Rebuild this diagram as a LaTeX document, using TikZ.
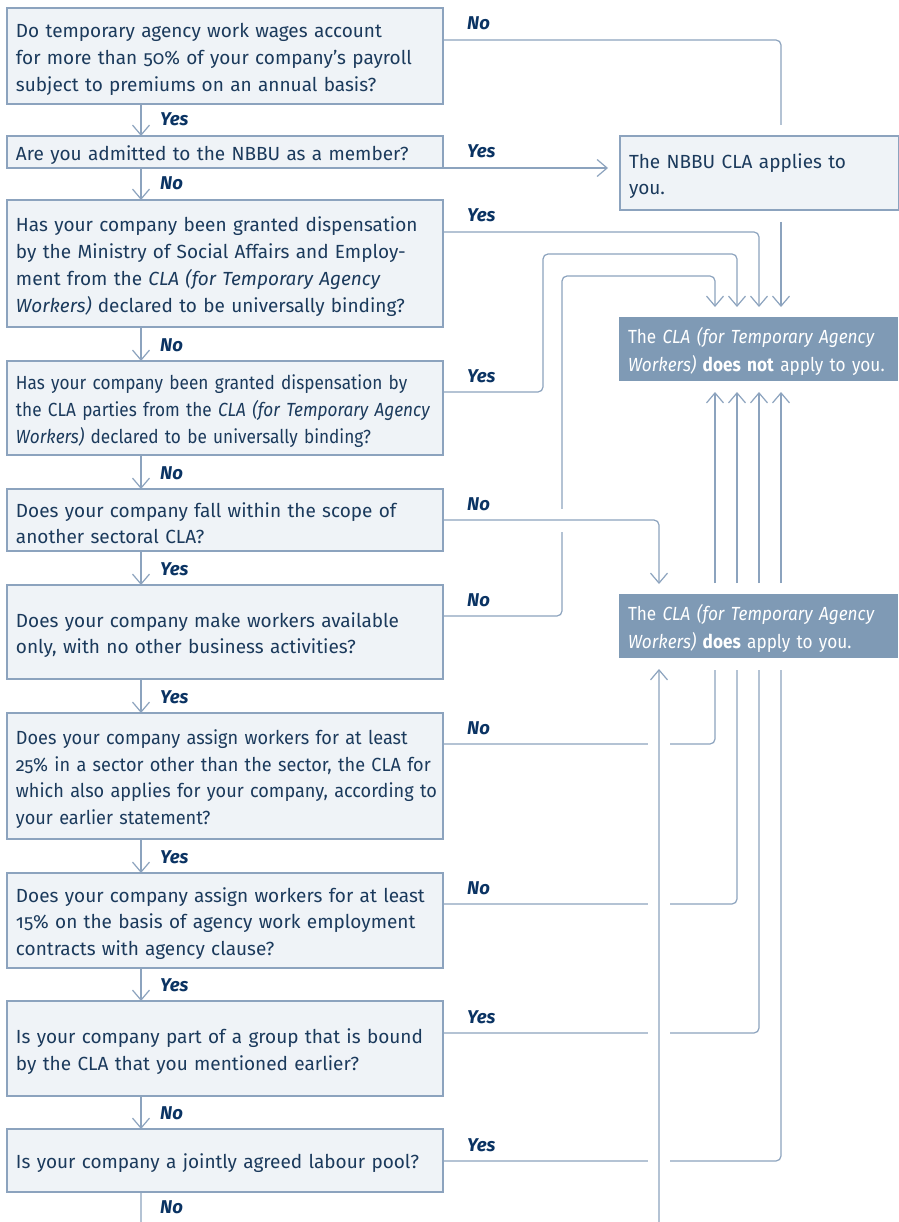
\documentclass[tikz,border=0pt]{standalone}
\usepackage{fontspec}
\setmainfont{Fira Sans}[Numbers=OldStyle]
\newfontfamily\condA{Fira Sans}[Numbers=OldStyle, FakeStretch=0.905]
\newfontfamily\condB{Fira Sans}[Numbers=OldStyle, FakeStretch=0.953]
\newfontfamily\condC{Fira Sans}[Numbers=OldStyle, FakeStretch=0.905]
\usetikzlibrary{arrows.meta,calc}
\definecolor{ln}{HTML}{8CA3BE}
\definecolor{bxfill}{HTML}{EFF3F7}
\definecolor{dkfill}{HTML}{7F9AB5}
\definecolor{txt}{HTML}{1B3A5C}
\definecolor{lbl}{HTML}{0A3363}
\newcommand\topstrut{\rule{0pt}{21pt}}
\newcommand\oneline[1]{\mbox{#1}}
\begin{document}
\begin{tikzpicture}[x=1pt,y=-1pt,
  qbox/.style={draw=ln, fill=bxfill, line width=1.2pt, rectangle, anchor=north west,
    outer sep=0pt, minimum width=436pt, text width=418pt, inner xsep=9pt, inner ysep=0pt,
    align=left, text=txt, font=\fontsize{19}{26.7}\selectfont},
  rbox/.style={qbox, minimum width=278.5pt, text width=260.5pt},
  dbox/.style={rectangle, fill=dkfill, anchor=north west, outer sep=0pt,
    minimum width=279pt, text width=261pt, inner xsep=9pt, inner ysep=0pt,
    align=left, text=white, font=\condC\fontsize{19}{28}\selectfont},
  lab/.style={anchor=base west, inner sep=0pt, text=lbl,
    font=\fontsize{18.5}{20}\selectfont\bfseries\itshape},
  cn/.style={draw=ln, line width=1.2pt, rounded corners=5pt},
  ar/.style={cn, -{Straight Barb[length=10pt,width=17pt]}},
  halo/.style={draw=white, line width=23pt},
]
\useasboundingbox (0,0) rectangle (898,1222);
\fill[white] (0,0) rectangle (898,1222);

% question boxes
\node[qbox, minimum height=96pt] (q1) at (7,8) {\topstrut\oneline{Do temporary agency work wages account}\\\oneline{for more than 50\% of your company’s payroll}\\\oneline{subject to premiums on an annual basis?}};
\node[qbox, minimum height=32pt] (q2) at (7,136) {\topstrut\oneline{Are you admitted to the NBBU as a member?}};
\node[qbox, minimum height=127pt] (q3) at (7,200) {\topstrut\oneline{Has your company been granted dispensation}\\\oneline{by the Ministry of Social Affairs and Employ-}\\\oneline{ment from the \textit{CLA (for Temporary Agency}}\\\oneline{\textit{Workers)} declared to be universally binding?}};
\node[qbox, minimum height=94pt, font=\condA\fontsize{19}{26.7}\selectfont] (q4) at (7,361) {\topstrut\oneline{Has your company been granted dispensation by}\\\oneline{the CLA parties from the \textit{CLA (for Temporary Agency}}\\\oneline{\textit{Workers)} declared to be universally binding?}};
\node[qbox, minimum height=62pt] (q5) at (7,489) {\topstrut\oneline{Does your company fall within the scope of}\\\oneline{another sectoral CLA?}};
\node[qbox, minimum height=94pt] (q6) at (7,585) {\topstrut\oneline{Does your company make workers available}\\\oneline{only, with no other business activities?}};
\node[qbox, minimum height=126pt, font=\condB\fontsize{19}{26.7}\selectfont] (q7) at (7,713) {\topstrut\oneline{Does your company assign workers for at least}\\\oneline{25\% in a sector other than the sector, the CLA for}\\\oneline{which also applies for your company, according to}\\\oneline{your earlier statement?}};
\node[qbox, minimum height=95pt] (q8) at (7,873) {\topstrut\oneline{Does your company assign workers for at least}\\\oneline{15\% on the basis of agency work employment}\\\oneline{contracts with agency clause?}};
\node[qbox, minimum height=95pt] (q9) at (7,1001) {\topstrut\oneline{Is your company part of a group that is bound}\\\oneline{by the CLA that you mentioned earlier?}};
\node[qbox, minimum height=63pt] (q10) at (7,1129) {\topstrut\oneline{Is your company a jointly agreed labour pool?}};

% result boxes
\node[rbox, minimum height=74pt] (nbbu) at (620,136) {\topstrut\oneline{The NBBU CLA applies to}\\\oneline{you.}};
\node[dbox, minimum height=64pt] (dnot) at (619,317) {\topstrut\oneline{The \textit{CLA (for Temporary Agency}}\\\oneline{\textit{Workers)} \textbf{does not} apply to you.}};
\node[dbox, minimum height=64pt] (does) at (619,594) {\topstrut\oneline{The \textit{CLA (for Temporary Agency}}\\\oneline{\textit{Workers)} \textbf{does} apply to you.}};

% helper coordinates
\coordinate (xL) at (141,0);
\coordinate (xA) at (543,0);
\coordinate (xB) at (562,0);
\coordinate (xC) at (659,0);
\coordinate (c1) at (715,0);
\coordinate (c2) at (737,0);
\coordinate (c3) at (759,0);
\coordinate (c4) at (781,0);
\coordinate (t1) at (0,254);
\coordinate (t2) at (0,276);
\coordinate (bot) at (659,1228);
\coordinate (e1) at ([yshift=-32pt]q1.north east);
\coordinate (e2) at ([yshift=-32pt]q2.north east);
\coordinate (e3) at ([yshift=-32pt]q3.north east);
\coordinate (e4) at ([yshift=-31pt]q4.north east);
\coordinate (e5) at ([yshift=-31pt]q5.north east);
\coordinate (e6) at ([yshift=-31pt]q6.north east);
\coordinate (e7) at ([yshift=-31pt]q7.north east);
\coordinate (e8) at ([yshift=-31pt]q8.north east);
\coordinate (e9) at ([yshift=-32pt]q9.north east);
\coordinate (e10) at ([yshift=-32pt]q10.north east);

% vertical flow
\draw[ar] (q1.south -| xL) -- (q2.north -| xL);
\draw[ar] (q2.south -| xL) -- (q3.north -| xL);
\draw[ar] (q3.south -| xL) -- (q4.north -| xL);
\draw[ar] (q4.south -| xL) -- (q5.north -| xL);
\draw[ar] (q5.south -| xL) -- (q6.north -| xL);
\draw[ar] (q6.south -| xL) -- (q7.north -| xL);
\draw[ar] (q7.south -| xL) -- (q8.north -| xL);
\draw[ar] (q8.south -| xL) -- (q9.north -| xL);
\draw[ar] (q9.south -| xL) -- (q10.north -| xL);

% to the right
\draw[cn] (e1) -| ($(nbbu.north -| c4)+(0,-11)$);
\draw[ar] ($(nbbu.south -| c4)+(0,12)$) -- ($(dnot.north -| c4)+(0,-10)$);
\draw[ar] (e2) -- ($(e2 -| nbbu.west)+(-12,0)$);
\draw[ar] (e3) -| ($(dnot.north -| c3)+(0,-10)$);
\draw[ar] (e4) -| (t1 -| xA) -| ($(dnot.north -| c2)+(0,-10)$);
\draw[ar] (e6) -| (t2 -| xB) -| ($(dnot.north -| c1)+(0,-10)$);
\draw[halo] ([xshift=2pt]e5) -- ($(e5 -| xC)+(-20,0)$);
\draw[ar] (e5) -| ($(does.north -| xC)+(0,-10)$);

\draw[cn] (e7) -| ($(does.south -| c1)+(0,12)$);
\draw[cn] (e8) -| ($(does.south -| c2)+(0,12)$);
\draw[cn] (e9) -| ($(does.south -| c3)+(0,12)$);
\draw[cn] (e10) -| ($(does.south -| c4)+(0,12)$);
\draw[ar] ($(does.north -| c1)+(0,-11)$) -- ($(dnot.south -| c1)+(0,11)$);
\draw[ar] ($(does.north -| c2)+(0,-11)$) -- ($(dnot.south -| c2)+(0,11)$);
\draw[ar] ($(does.north -| c3)+(0,-11)$) -- ($(dnot.south -| c3)+(0,11)$);
\draw[ar] ($(does.north -| c4)+(0,-11)$) -- ($(dnot.south -| c4)+(0,11)$);

\draw[draw=white, line width=22pt] (bot) -- ($(does.south -| bot)+(0,11)$);
\draw[ar] (q10.south -| xL) |- (bot) -- ($(does.south -| bot)+(0,11)$);

% labels right
\node[lab] (r1) at (467,30) {No};
\node[lab] (r2) at (467,158) {Yes};
\node[lab] (r3) at (467,222) {Yes};
\node[lab] (r4) at (467,382) {Yes};
\node[lab] (r5) at (467,510) {No};
\node[lab] (r6) at (467,606) {No};
\node[lab] (r7) at (467,734) {No};
\node[lab] (r8) at (467,894) {No};
\node[lab] (r9) at (467,1023) {Yes};
\node[lab] (r10) at (467,1151) {Yes};
% labels down
\node[lab] (d1) at (160,126) {Yes};
\node[lab] (d2) at (160,190) {No};
\node[lab] (d3) at (160,351) {No};
\node[lab] (d4) at (160,479) {No};
\node[lab] (d5) at (160,575) {Yes};
\node[lab] (d6) at (160,703) {Yes};
\node[lab] (d7) at (160,863) {Yes};
\node[lab] (d8) at (160,991) {Yes};
\node[lab] (d9) at (160,1119) {No};
\node[lab] (d10) at (160,1213) {No};
\end{tikzpicture}
\end{document}
